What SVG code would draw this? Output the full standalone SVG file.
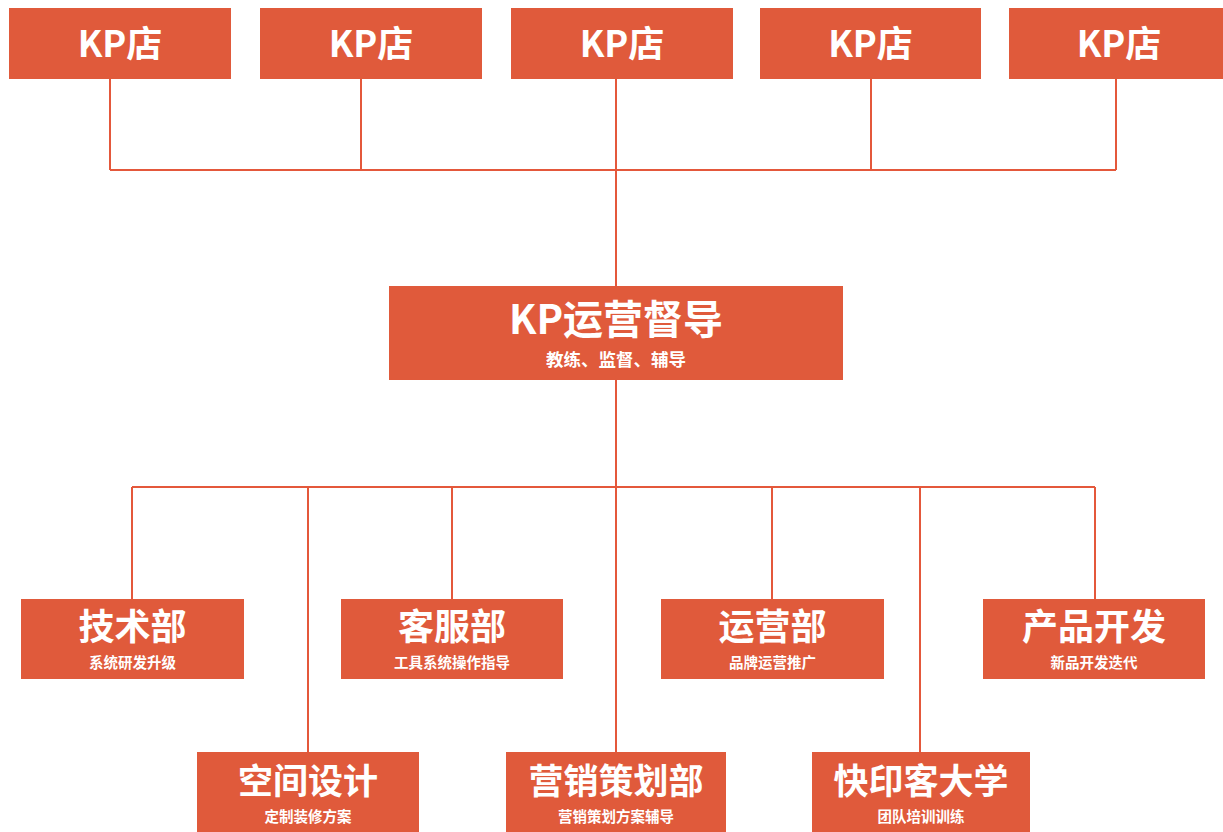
<svg xmlns="http://www.w3.org/2000/svg" width="1223" height="832" viewBox="0 0 1223 832">
<style>
.box{fill:#E05A3B}
.t{fill:#fff;font-family:"Noto Sans CJK SC","Noto Sans",sans-serif;font-weight:700;text-anchor:middle}
.lines{stroke:#E4583B;stroke-width:2;fill:none}
</style>
<rect width="1223" height="832" fill="#fff"/>
<g id="connectors" class="lines">
<path d="M110 79V170M361 79V170M616 79V170M871 79V170M1116 79V170M110 170H1116M616 170V287"/>
<path d="M616 380V487M132 487H1095M132 487V599M308 487V752M452 487V599M616 487V752M772 487V599M920 487V752M1095 487V599"/>
</g>
<g id="kp1"><rect class="box" x="9" y="8" width="222" height="71"/><text class="t" x="120" y="57" font-size="36">KP店</text></g>
<g id="kp2"><rect class="box" x="260" y="8" width="222" height="71"/><text class="t" x="371" y="57" font-size="36">KP店</text></g>
<g id="kp3"><rect class="box" x="511" y="8" width="222" height="71"/><text class="t" x="622" y="57" font-size="36">KP店</text></g>
<g id="kp4"><rect class="box" x="760" y="8" width="221" height="71"/><text class="t" x="870.5" y="57" font-size="36">KP店</text></g>
<g id="kp5"><rect class="box" x="1009" y="8" width="214" height="71"/><text class="t" x="1119" y="57" font-size="36">KP店</text></g>
<g id="supervisor"><rect class="box" x="389" y="286" width="454" height="94"/><text class="t" x="616" y="334" font-size="40">KP运营督导</text><text class="t" x="616" y="366" font-size="17.5">教练、监督、辅导</text></g>
<g id="tech"><rect class="box" x="21" y="599" width="223" height="80"/><text class="t" x="132.5" y="640" font-size="36">技术部</text><text class="t" x="132.5" y="668" font-size="14.5">系统研发升级</text></g>
<g id="service"><rect class="box" x="341" y="599" width="222" height="80"/><text class="t" x="452" y="640" font-size="36">客服部</text><text class="t" x="452" y="668" font-size="14.5">工具系统操作指导</text></g>
<g id="ops"><rect class="box" x="661" y="599" width="223" height="80"/><text class="t" x="772.5" y="640" font-size="36">运营部</text><text class="t" x="772.5" y="668" font-size="14.5">品牌运营推广</text></g>
<g id="product"><rect class="box" x="983" y="599" width="222" height="80"/><text class="t" x="1094" y="640" font-size="36">产品开发</text><text class="t" x="1094" y="668" font-size="14.5">新品开发迭代</text></g>
<g id="design"><rect class="box" x="197" y="752" width="222" height="80"/><text class="t" x="308" y="794" font-size="35">空间设计</text><text class="t" x="308" y="822" font-size="14.5">定制装修方案</text></g>
<g id="marketing"><rect class="box" x="506" y="752" width="220" height="80"/><text class="t" x="616" y="794" font-size="35">营销策划部</text><text class="t" x="616" y="822" font-size="14.5">营销策划方案辅导</text></g>
<g id="university"><rect class="box" x="812" y="752" width="218" height="80"/><text class="t" x="921" y="794" font-size="35">快印客大学</text><text class="t" x="921" y="822" font-size="14.5">团队培训训练</text></g>
</svg>
